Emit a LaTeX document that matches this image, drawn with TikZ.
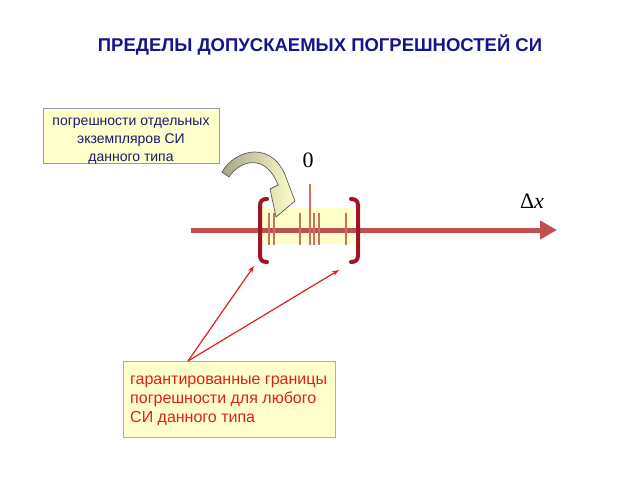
\documentclass[tikz,border=0pt]{standalone}
\usepackage{fontspec}
\setmainfont{Liberation Sans}
\newfontfamily\seriffont{Liberation Serif}
\usetikzlibrary{arrows.meta}
\definecolor{axisred}{RGB}{192,80,80}
\definecolor{brackred}{RGB}{160,20,35}
\definecolor{tickred}{RGB}{205,110,100}
\definecolor{hiyellow}{RGB}{255,255,200}
\definecolor{boxyellow}{RGB}{255,255,204}
\definecolor{titleblue}{RGB}{20,20,140}
\definecolor{navytext}{RGB}{25,25,110}
\definecolor{boxblue}{RGB}{150,150,190}
\definecolor{boxpink}{RGB}{232,150,150}
\definecolor{textred}{RGB}{225,30,30}
\definecolor{arrowolive}{RGB}{165,165,135}
\tikzset{
  titletext/.style={font=\fontsize{18.5}{22}\selectfont\bfseries, text=titleblue},
  notebox/.style={draw=boxblue, fill=boxyellow, line width=0.8pt, minimum width=176pt, minimum height=55pt, inner sep=0pt},
  notetext/.style={align=center, font=\fontsize{14}{18}\selectfont, text=navytext, inner sep=0pt},
  guarbox/.style={draw=boxpink, fill=boxyellow, line width=0.8pt, minimum width=212pt, minimum height=76pt, inner sep=0pt},
  guartext/.style={align=left, font=\fontsize{16}{19}\selectfont, text=textred, inner sep=0pt},
  bigsym/.style={font=\seriffont\fontsize{22}{24}\selectfont, inner sep=0pt},
  bracket/.style={draw=brackred, line width=4pt, line cap=round, line join=round},
  tick/.style={draw=tickred, line width=1.8pt},
  pointer/.style={draw=textred, line width=1.2pt, -{Stealth[length=7pt,width=5pt]}}
}
\begin{document}
\begin{tikzpicture}[x=1pt,y=-1pt]
\useasboundingbox (0,0) rectangle (640,480);
% title
\node[titletext] (title) at (320,45) {ПРЕДЕЛЫ ДОПУСКАЕМЫХ ПОГРЕШНОСТЕЙ СИ};
% top note box
\node[notebox] (note) at (131,136) {};
\node[notetext] (notet) at (131,141) {погрешности отдельных\\экземпляров СИ\\данного типа};
% highlight
\fill[hiyellow] (262,208) rectangle (354,244);
% axis
\coordinate (ax0) at (191,230);
\coordinate (ax1) at (557,230);
\draw[line width=5pt, axisred, -{Triangle[length=17pt,width=18pt]}] (ax0) -- (ax1);
% ticks
\foreach \xx in {269,274,300,314,319,346} \draw[tick] (\xx,213) -- (\xx,245);
\draw[tick, line width=2pt] (310,184) -- (310,245);
% brackets
\draw[bracket] (267,199) .. controls (262,199) and (260,201) .. (260,206) -- (260,255) .. controls (260,260) and (262,262) .. (267,262);
\draw[bracket] (351,199) .. controls (356,199) and (358,201) .. (358,206) -- (358,255) .. controls (358,260) and (356,262) .. (351,262);
% labels
\node[bigsym] (zero) at (308,160) {0};
\node[bigsym] (dx) at (532,201) {Δ\textit{x}};
% curved block arrow
\draw[draw=gray!70!black, line width=0.7pt, left color=arrowolive, right color=boxyellow]
  (222,172) .. controls (236,148) and (274,140) .. (287,180)
  -- (295,201) -- (276,217) -- (270,189) -- (278,185)
  .. controls (266,153) and (240,160) .. (229,177) -- cycle;
% bottom box
\node[guarbox] (guar) at (229,399) {};
\node[guartext, anchor=west] (guart) at (130,401) {гарантированные границы\\погрешности для любого\\СИ данного типа};
\coordinate (orig) at (188,361);
\coordinate (lb) at (254,266);
\coordinate (rb) at (339,270);
\draw[pointer] (orig) -- (lb);
\draw[pointer] (orig) -- (rb);
\end{tikzpicture}
\end{document}
